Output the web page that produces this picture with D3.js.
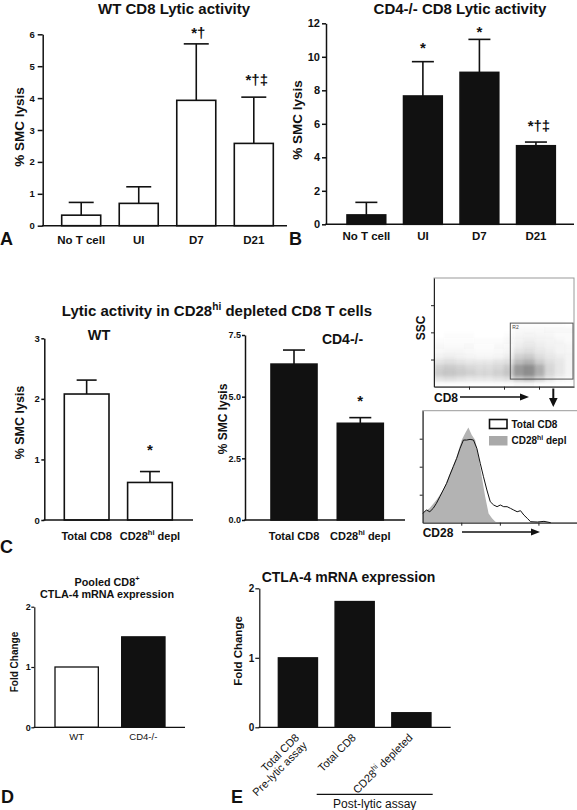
<!DOCTYPE html>
<html><head><meta charset="utf-8">
<script src="https://cdn.jsdelivr.net/npm/d3@7/dist/d3.min.js"></script>
<style>html,body{margin:0;padding:0;background:#fff;}svg{display:block;}</style>
</head><body>
<script>
// ---------------- DATA ----------------
const abCats = ["No T cell", "UI", "D7", "D21"];
const wtLysis = [0.33, 0.70, 3.93, 2.58];
const wtLysisSem = [0.40, 0.52, 1.77, 1.45];
const wtSig = ["", "", "*†", "*†‡"];
const wtTicks = [0, 1, 2, 3, 4, 5, 6];

const cd4Lysis = [0.56, 7.66, 9.07, 4.69];
const cd4LysisSem = [0.75, 2.05, 1.97, 0.22];
const cd4Sig = ["", "*", "*", "*†‡"];
const cd4Ticks = [0, 2, 4, 6, 8, 10, 12];

const cCats = ["Total CD8", "CD28hi depl"];
const cWtLysis = [2.08, 0.62];
const cWtSem = [0.23, 0.18];
const cWtTicks = [0, 1, 2, 3];
const cCd4Lysis = [6.32, 3.92];
const cCd4Sem = [0.57, 0.23];
const cCd4Ticks = [0, 2.5, 5.0, 7.5];
const cSig = ["", "*"];

const dCats = ["WT", "CD4-/-"];
const dFold = [1.0, 1.5];
const dTicks = [0, 1, 2];

const eCats = ["Total CD8 Pre-lytic assay", "Total CD8", "CD28hi depleted"];
const eFold = [1.0, 1.81, 0.21];
const eTicks = [0, 1, 2];

// flow cytometry: SSC vs CD8 density (rows = SSC bins of 50 from 0, cols = CD8 bins of 1000/14)
const ssBinSize = 50;
const cd8Bins = 14;
const scatterDensity = [
  [0.3,0.3,0.3,0.3,0.3,0.3,0.3,0.3, 0.4,0.4,0.3,0.3,0,0],
  [2.5,3,2.5,2,2,2,2.5,3, 5,6,4,2,1,0.5],
  [4.5,5,4.5,4,3.5,3.5,4,5, 9,10,7,3.5,2,1],
  [4,4.5,4,3.5,3,3,3.5,4.5, 9,10,7,3.5,2,1],
  [2.5,3,2.5,2,2,2,2.5,3, 6,7,4.5,3,2,1],
  [1.2,1.5,1.2,1,0.8,0.8,1,1.5, 4,4.5,3,2,1.5,1],
  [0.6,0.8,0.8,0.6,0.5,0.5,0.6,1, 2.5,3,2,1.5,1,0.8],
  [0.4,0.5,0.5,0.4,0.3,0.3,0.4,0.6, 1.5,2,1.5,1.2,1,0.8],
  [0.2,0.3,0.3,0.3,0.2,0.2,0.2,0.4, 1.2,1.5,1.2,1,0.8,0.5],
  [0,0.2,0.2,0.2,0,0,0,0.2, 0.8,1,0.8,0.8,0.5,0.5],
  [0,0,0,0,0,0,0,0, 0.6,0.6,0.6,0.4,0.4,0.4],
  [0,0,0,0,0,0,0,0, 0.3,0.3,0.3,0.3,0.3,0]
];
const gateR2 = [545, 1000, 70, 585]; // CD8 min,max ; SSC min,max
const flowTicks = [250, 500, 750];

// CD28 histograms (channel, % of max)
const histTotalCh = [0,24,46,68,89,111,133,155,176,198,220,242,264,285,307,329,351,373,394,416,438,460,482,503,525,547,569,590,612,634,656,678,699,743,786,830];
const histTotal   = [8.3,11.3,9.8,12.8,17.3,23.2,29.2,35.1,42.6,50,57.4,66.4,73.8,73.8,74.4,73.8,66.4,53,41,29.2,18.7,15.8,14.3,15.8,14.3,14.3,12.8,11.3,9.8,10.7,6.8,3.9,0.9,0.6,1.2,0];
const histDeplCh = [0,45,89,133,176,220,253,275,296,318,340,362,383,405,427,449,471,503];
const histDepl   = [8.9,13,20.2,29.2,44,58.9,73.8,79.8,85.1,78.3,73.8,58.9,41,23.2,8.3,3.9,0.9,0];

// ---------------- DRAW ----------------
const FONT = '"Liberation Sans", Arial, Helvetica, sans-serif';
const INK = "#111";
const svg = d3.select("body").append("svg").attr("width", 577).attr("height", 810)
  .attr("font-family", FONT);

function fillParts(t, parts, fs) {
  if (typeof parts === "string") parts = parts.split(/(hi(?= dep))/).filter(s => s).map(s => s === "hi" ? {sup: "hi"} : s);
  let shifted = 0;
  parts.forEach(p => {
    const sup = typeof p === "object";
    const ts = t.append("tspan").text(sup ? p.sup : p);
    if (sup) { ts.attr("font-size", fs * 0.68).attr("dy", -fs * 0.42); shifted = fs * 0.42; }
    else if (shifted) { ts.attr("dy", shifted); shifted = 0; }
  });
}
function addText(parent, x, y, parts, o = {}) {
  const fs = o.fs || 12;
  const t = parent.append("text").attr("x", x).attr("y", y)
    .attr("font-size", fs).attr("font-weight", o.bold === false ? "normal" : "bold")
    .attr("text-anchor", o.anchor || "start").attr("fill", o.fill || INK);
  if (o.rotate != null) t.attr("transform", `rotate(${o.rotate},${x},${y})`);
  fillParts(t, parts, fs);
  return t;
}

function barPanel(o) {
  const g = svg.append("g");
  const y = d3.scaleLinear().domain([0, o.yMax]).range([o.y0, o.yTop]);
  const x = d3.scaleBand().domain(o.cats).range(o.band).paddingInner(o.pad).paddingOuter(0);
  const cx = d => x(d) + x.bandwidth() / 2;
  const sw = o.sw || 1.6;
  g.selectAll("rect.bar").data(o.cats).join("rect").attr("class", "bar")
    .attr("x", d => x(d)).attr("width", x.bandwidth())
    .attr("y", (d, i) => y(o.vals[i])).attr("height", (d, i) => o.y0 - y(o.vals[i]))
    .attr("fill", (d, i) => o.fills[i]).attr("stroke", INK).attr("stroke-width", sw);
  if (o.sem) {
    o.cats.forEach((d, i) => {
      const top = y(o.vals[i] + o.sem[i]), base = y(o.vals[i]);
      g.append("line").attr("x1", cx(d)).attr("x2", cx(d)).attr("y1", base).attr("y2", top)
        .attr("stroke", INK).attr("stroke-width", sw);
      g.append("line").attr("x1", cx(d) - o.cap).attr("x2", cx(d) + o.cap).attr("y1", top).attr("y2", top)
        .attr("stroke", INK).attr("stroke-width", sw);
      if (o.sig && o.sig[i]) {
        addText(g, cx(d) + (o.sigDx ? o.sigDx[i] : 0), top - o.sigOff[i], o.sig[i], {fs: 15, anchor: "middle"});
      }
    });
  }
  // y axis
  const ya = d3.axisLeft(y).tickValues(o.ticks).tickSize(o.tickSize).tickSizeOuter(0)
    .tickPadding(o.tickPad).tickFormat(o.fmt || (v => v));
  const ag = g.append("g").attr("transform", `translate(${o.x0},0)`).call(ya);
  ag.selectAll("text").attr("font-size", o.tickFs).attr("font-weight", "bold").attr("fill", INK)
    .attr("font-family", FONT);
  ag.selectAll("line,path").attr("stroke", INK).attr("stroke-width", o.axw || 1.5);
  // baseline
  g.append("line").attr("x1", o.x0 - 0.75).attr("x2", o.x1).attr("y1", o.y0).attr("y2", o.y0)
    .attr("stroke", INK).attr("stroke-width", o.axw || 1.5);
  // category labels
  const xg = g.append("g").attr("transform", `translate(0,${o.y0})`)
    .call(d3.axisBottom(x).tickSize(0).tickPadding(0));
  xg.select(".domain").remove();
  xg.selectAll("text").each(function (d) {
    const t = d3.select(this).text(null).attr("fill", INK).attr("font-family", FONT)
      .attr("font-size", o.catFs).attr("font-weight", o.catBold === false ? "normal" : "bold");
    if (o.rotLabels) {
      t.attr("x", 0).attr("y", 0).attr("dy", 0).attr("text-anchor", "end")
        .attr("transform", `translate(${o.rotDx},${o.rotDy}) rotate(-45)`);
      const lines = o.rotLabels[d];
      lines.forEach((ln, li) => {
        const sub = t.append("tspan").attr("x", 0).attr("dy", li === 0 ? 0 : o.catFs * 1.0);
        if (typeof ln === "string") sub.text(ln);
        else {
          sub.text(ln[0]);
          t.append("tspan").attr("font-size", o.catFs * 0.68).attr("dy", -o.catFs * 0.42).text(ln[1]);
          t.append("tspan").attr("dy", o.catFs * 0.42).text(ln[2]);
        }
      });
    } else {
      t.attr("y", o.catBase - o.y0).attr("dy", 0);
      fillParts(t, d, o.catFs);
    }
  });
  return {x, y, g};
}

// ---------- Panel A ----------
addText(svg, 174, 14, "WT CD8 Lytic activity", {fs: 15, anchor: "middle"});
addText(svg, 24, 127, "% SMC lysis", {fs: 13.5, anchor: "middle", rotate: -90});
barPanel({cats: abCats, vals: wtLysis, sem: wtLysisSem, sig: wtSig, sigOff: [0, 0, 6, 12], sigDx: [0,0,2,3],
  fills: ["#fff", "#fff", "#fff", "#fff"], x0: 42.7, x1: 287, y0: 225.7, yTop: 34.3, yMax: 6,
  band: [61.7, 273.3], pad: 0.322, ticks: wtTicks, tickSize: 5, tickPad: 3, tickFs: 9.5,
  catFs: 11.5, catBase: 244, cap: 12.5});
addText(svg, 0, 245, "A", {fs: 18});

// ---------- Panel B ----------
addText(svg, 460, 14, "CD4-/- CD8 Lytic activity", {fs: 15, anchor: "middle"});
addText(svg, 301.5, 120, "% SMC lysis", {fs: 13.5, anchor: "middle", rotate: -90});
barPanel({cats: abCats, vals: cd4Lysis, sem: cd4LysisSem, sig: cd4Sig, sigOff: [0, 9, 2.5, 11], sigDx: [0,0,0,3],
  fills: [INK, INK, INK, INK], x0: 326, x1: 574, y0: 224.3, yTop: 23.3, yMax: 12,
  band: [347, 555.3], pad: 0.315, ticks: cd4Ticks, tickSize: 4, tickPad: 2, tickFs: 11,
  catFs: 11.5, catBase: 240, cap: 11});
addText(svg, 289, 245, "B", {fs: 18});

// ---------- Panel C ----------
addText(svg, 217, 316, ["Lytic activity in CD28", {sup: "hi"}, " depleted CD8 T cells"], {fs: 15, anchor: "middle"});
addText(svg, 99, 340, "WT", {fs: 14.5, anchor: "middle"});
addText(svg, 342.5, 344, "CD4-/-", {fs: 14, anchor: "middle"});
addText(svg, 24, 422.5, "% SMC lysis", {fs: 12.5, anchor: "middle", rotate: -90});
barPanel({cats: cCats, vals: cWtLysis, sem: cWtSem, sig: cSig, sigOff: [0, 17],
  fills: ["#fff", "#fff"], x0: 44.3, x1: 193, y0: 520, yTop: 338.3, yMax: 3,
  band: [64.3, 172.3], pad: 0.294, ticks: cWtTicks, tickSize: 3, tickPad: 1.5, tickFs: 9.5,
  catFs: 11, catBase: 540, cap: 10});
addText(svg, 226.5, 419, "% SMC lysis", {fs: 12, anchor: "middle", rotate: -90});
barPanel({cats: cCats, vals: cCd4Lysis, sem: cCd4Sem, sig: cSig, sigOff: [0, 11.5],
  fills: [INK, INK], x0: 245, x1: 405, y0: 520, yTop: 335, yMax: 7.5,
  band: [271, 383.3], pad: 0.306, ticks: cCd4Ticks, tickSize: 3, tickPad: 1, tickFs: 9,
  fmt: d3.format(".1f"), catFs: 11, catBase: 540, cap: 11});
addText(svg, 0, 553, "C", {fs: 18});

// ---------- Flow cytometry ----------
(function () {
  const g = svg.append("g");
  const fx = d3.scaleLinear().domain([0, 1000]).range([434, 574]);
  const fy = d3.scaleLinear().domain([0, 1000]).range([386.7, 278]);
  const defs = svg.append("defs");
  defs.append("filter").attr("id", "blur").attr("x", "-10%").attr("y", "-10%").attr("width", "120%").attr("height", "120%")
    .append("feGaussianBlur").attr("stdDeviation", 1.6);
  defs.append("clipPath").attr("id", "scClip").append("rect")
    .attr("x", 434).attr("y", 278).attr("width", 140).attr("height", 108.7);
  g.append("rect").attr("x", 434).attr("y", 278).attr("width", 140).attr("height", 108.7)
    .attr("fill", "#fff").attr("stroke", "#9a9a9a").attr("stroke-width", 1);
  const cw = 1000 / cd8Bins;
  const cells = [];
  scatterDensity.forEach((row, r) => row.forEach((v, c) => { if (v > 0) cells.push({r, c, v}); }));
  g.append("g").attr("clip-path", "url(#scClip)").append("g").attr("filter", "url(#blur)")
    .selectAll("rect").data(cells).join("rect")
    .attr("x", d => fx(d.c * cw)).attr("width", fx(cw) - fx(0) + 0.3)
    .attr("y", d => fy((d.r + 1) * ssBinSize)).attr("height", fy(0) - fy(ssBinSize) + 0.3)
    .attr("fill", "#555").attr("fill-opacity", d => Math.min(0.75, d.v * 0.066));
  g.append("rect").attr("x", fx(gateR2[0])).attr("y", fy(gateR2[3]))
    .attr("width", fx(gateR2[1]) - fx(gateR2[0]) - 1).attr("height", fy(gateR2[2]) - fy(gateR2[3]))
    .attr("fill", "none").attr("stroke", "#555").attr("stroke-width", 1);
  addText(g, fx(gateR2[0]) + 2, fy(gateR2[3]) + 6, "R2", {fs: 5, bold: false, fill: "#444"});
  const ax = g.append("g").attr("transform", "translate(434,0)")
    .call(d3.axisLeft(fy).tickValues(flowTicks).tickSize(3).tickSizeOuter(0).tickFormat(""));
  const bx = g.append("g").attr("transform", "translate(0,386.7)")
    .call(d3.axisBottom(fx).tickValues(flowTicks).tickSize(3).tickSizeOuter(0).tickFormat(""));
  [ax, bx].forEach(a => a.selectAll("line,path").attr("stroke", "#222").attr("stroke-width", 1));
  addText(g, 425, 328, "SSC", {fs: 12, anchor: "middle", rotate: -90});
  addText(g, 434, 401.5, "CD8", {fs: 12});
  g.append("line").attr("x1", 460).attr("x2", 522).attr("y1", 397).attr("y2", 397).attr("stroke", INK).attr("stroke-width", 1.4);
  g.append("path").attr("d", "M529,397 L520,393.5 L520,400.5 Z").attr("fill", INK);
  g.append("line").attr("x1", 553.3).attr("x2", 553.3).attr("y1", 388.5).attr("y2", 399).attr("stroke", INK).attr("stroke-width", 2);
  g.append("path").attr("d", "M553.3,407 L549,398 L557.6,398 Z").attr("fill", INK);

  // histogram
  const hx = d3.scaleLinear().domain([0, 1000]).range([422.7, 577]);
  const hy = d3.scaleLinear().domain([0, 100]).range([522.7, 410.7]);
  g.append("rect").attr("x", 422.7).attr("y", 410.7).attr("width", 160).attr("height", 112)
    .attr("fill", "#fff").attr("stroke", "#9a9a9a").attr("stroke-width", 1);
  const area = d3.area().x((d, i) => hx(histDeplCh[i])).y0(hy(0)).y1(d => hy(d));
  g.append("path").datum(histDepl).attr("d", area).attr("fill", "#b3b3b3");
  const line = d3.line().x((d, i) => hx(histTotalCh[i])).y(d => hy(d));
  g.append("path").datum(histTotal).attr("d", line).attr("fill", "none").attr("stroke", INK).attr("stroke-width", 1);
  const hax = g.append("g").attr("transform", "translate(422.7,0)")
    .call(d3.axisLeft(hy).tickValues([25, 50, 75]).tickSize(3).tickSizeOuter(0).tickFormat(""));
  const hbx = g.append("g").attr("transform", "translate(0,522.7)")
    .call(d3.axisBottom(hx).tickValues(flowTicks).tickSize(3).tickSizeOuter(0).tickFormat(""));
  [hax, hbx].forEach(a => a.selectAll("line,path").attr("stroke", "#222").attr("stroke-width", 1));
  // legend
  g.append("rect").attr("x", 489.5).attr("y", 419.5).attr("width", 17.5).attr("height", 9).attr("fill", "#fff")
    .attr("stroke", INK).attr("stroke-width", 1.6);
  g.append("rect").attr("x", 489).attr("y", 436).attr("width", 18.5).attr("height", 9.5).attr("fill", "#a9a9a9");
  addText(g, 511.5, 428, "Total CD8", {fs: 10});
  addText(g, 511.5, 444, ["CD28", {sup: "hi"}, " depl"], {fs: 10});
  addText(g, 422.7, 537, "CD28", {fs: 12});
  g.append("line").attr("x1", 462).attr("x2", 532).attr("y1", 532).attr("y2", 532).attr("stroke", INK).attr("stroke-width", 1.4);
  g.append("path").attr("d", "M540,532 L531,528.5 L531,535.5 Z").attr("fill", INK);
})();

// ---------- Panel D ----------
addText(svg, 107, 586, ["Pooled CD8", {sup: "+"}], {fs: 10.8, anchor: "middle"});
addText(svg, 107, 597.5, "CTLA-4 mRNA expression", {fs: 10.8, anchor: "middle"});
addText(svg, 18, 662, "Fold Change", {fs: 10, anchor: "middle", rotate: -90});
barPanel({cats: dCats, vals: dFold, fills: ["#fff", INK], x0: 34.3, x1: 185, y0: 727.3, yTop: 606.7, yMax: 2,
  band: [55, 165], pad: 0.35, ticks: dTicks, tickSize: 3, tickPad: 0.5, tickFs: 9,
  catFs: 9.5, catBold: false, catBase: 740.5, sw: 1.3, axw: 1.2});
addText(svg, 1, 803, "D", {fs: 18});

// ---------- Panel E ----------
addText(svg, 348.5, 581.5, "CTLA-4 mRNA expression", {fs: 14, anchor: "middle"});
addText(svg, 242, 651, "Fold Change", {fs: 11.5, anchor: "middle", rotate: -90});
barPanel({cats: eCats, vals: eFold, fills: [INK, INK, INK], x0: 259.3, x1: 450.7, y0: 727.3, yTop: 588.3, yMax: 2,
  band: [278.3, 431], pad: 0.309, ticks: eTicks, tickSize: 4, tickPad: 1, tickFs: 10,
  catFs: 11, catBold: false, sw: 1.3, axw: 1.2, rotDx: 2, rotDy: 11,
  rotLabels: {"Total CD8 Pre-lytic assay": ["Total CD8", "Pre-lytic assay"],
              "Total CD8": ["Total CD8"],
              "CD28hi depleted": [["CD28", "hi", " depleted"]]}});
svg.append("line").attr("x1", 316.7).attr("x2", 432.7).attr("y1", 794.3).attr("y2", 794.3)
  .attr("stroke", INK).attr("stroke-width", 1.2);
addText(svg, 374.7, 807.5, "Post-lytic assay", {fs: 12, bold: false, anchor: "middle"});
addText(svg, 231, 803, "E", {fs: 18});
</script>
</body></html>
